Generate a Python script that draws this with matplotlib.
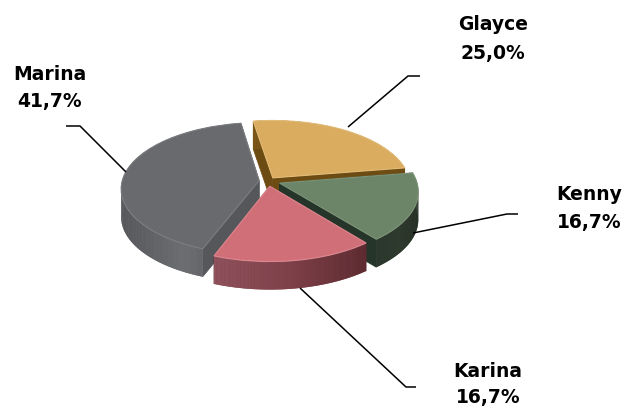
import numpy as np
import matplotlib
matplotlib.use('Agg')
import matplotlib.pyplot as plt
from matplotlib.transforms import Transform
from matplotlib.colors import LinearSegmentedColormap

names = ['Glayce', 'Kenny', 'Karina', 'Marina']
values = [25.0, 16.7, 16.7, 41.7]
value_labels = ['25,0%', '16,7%', '16,7%', '41,7%']

top_colors = ['#d9ac60', '#6c8467', '#d16f78', '#686a6d']
rim_colors = ['#e3bc78', '#7d9478', '#dc8890', '#7b7d80']
cut_colors = ['#6d4c14', '#26352a', '#5c2a30', '#55575a']
wall_colors = [['#7a5518', '#6d4c14'],
               ['#2b372c', '#2f3a2e', '#263026'],
               ['#8f525c', '#7d3f48', '#5c2a30'],
               ['#56575a', '#6c6e71', '#525356']]
explode = [0.06, 0.09, 0.08, 0.065]
draw_order = [0, 3, 1, 2]

CX, CY, RX, RY, K = 268, 182, 137, 65, 0.12
DEPTH = 28


class Persp(Transform):
    # tilted pie: far side smaller than near side
    input_dims = 2
    output_dims = 2

    def transform_non_affine(self, values):
        u, v = values[:, 0], values[:, 1]
        w = 1 + K * v
        return np.column_stack([CX + RX * u / w, CY - RY * v / w])


def project(u, v):
    return Persp().transform_non_affine(np.column_stack([u, v]))


plt.rcParams['font.family'] = ['DejaVu Sans']
fig = plt.figure(figsize=(6.28, 4.10), dpi=100)
ax = fig.add_axes([0, 0, 1, 1])

wedges, _ = ax.pie(values, startangle=99, counterclock=False, explode=explode,
                   colors=top_colors)
ax.set_aspect('auto')
ax.set_xlim(0, 628)
ax.set_ylim(410, 0)
ax.axis('off')

for z, i in enumerate(draw_order):
    wedge = wedges[i]
    base = 10 * (z + 1)
    wedge.set_transform(Persp() + ax.transData)
    wedge.set_clip_on(False)
    wedge.set_zorder(base + 3)
    wedge.set_edgecolor(rim_colors[i])
    wedge.set_linewidth(0.8)

    x0, y0 = wedge.center
    angles = np.radians(np.linspace(wedge.theta1, wedge.theta2, 60))
    rim = project(x0 + np.cos(angles), y0 + np.sin(angles))
    apex = project(np.array([x0]), np.array([y0]))[0]

    # cut faces
    for end in (rim[0], rim[-1]):
        quad = np.array([apex, end, end + [0, DEPTH], apex + [0, DEPTH]])
        ax.fill(quad[:, 0], quad[:, 1], color=cut_colors[i], lw=0.5, zorder=base)

    # outer wall, shaded left to right, solid piece under it hides the seams
    cmap = LinearSegmentedColormap.from_list('wall', wall_colors[i])
    whole = np.vstack([rim, rim[::-1] + [0, DEPTH]])
    ax.fill(whole[:, 0], whole[:, 1], color=cmap(0.5), lw=0, zorder=base + 1)
    x_span = rim[:, 0].max() - rim[:, 0].min()
    for a, b in zip(rim[:-1], rim[1:]):
        shade = (a[0] - rim[:, 0].min()) / x_span
        quad = np.array([a, b, b + [0, DEPTH], a + [0, DEPTH]])
        ax.fill(quad[:, 0], quad[:, 1], facecolor=cmap(shade), edgecolor='none',
                lw=0, zorder=base + 2)

leaders = [([348, 408, 420], [128, 77, 77]),
           ([413, 507, 518], [234, 215, 215]),
           ([300, 406, 416], [289, 388, 388]),
           ([126, 80, 66], [173, 127, 127])]
for xs, ys in leaders:
    ax.plot(xs, ys, color='black', lw=1.1, zorder=60, solid_capstyle='butt')

name_pos = [(493, 25), (589, 195), (488, 372), (50, 74)]
value_pos = [(493, 53), (589, 223), (488, 398), (50, 102)]
for i in range(4):
    ax.text(*name_pos[i], names[i], ha='center', va='center',
            fontsize=13.5, fontweight='bold', color='black')
    ax.text(*value_pos[i], value_labels[i], ha='center', va='center',
            fontsize=13.5, fontweight='bold', color='black')

fig.savefig('out.png', dpi=100)
